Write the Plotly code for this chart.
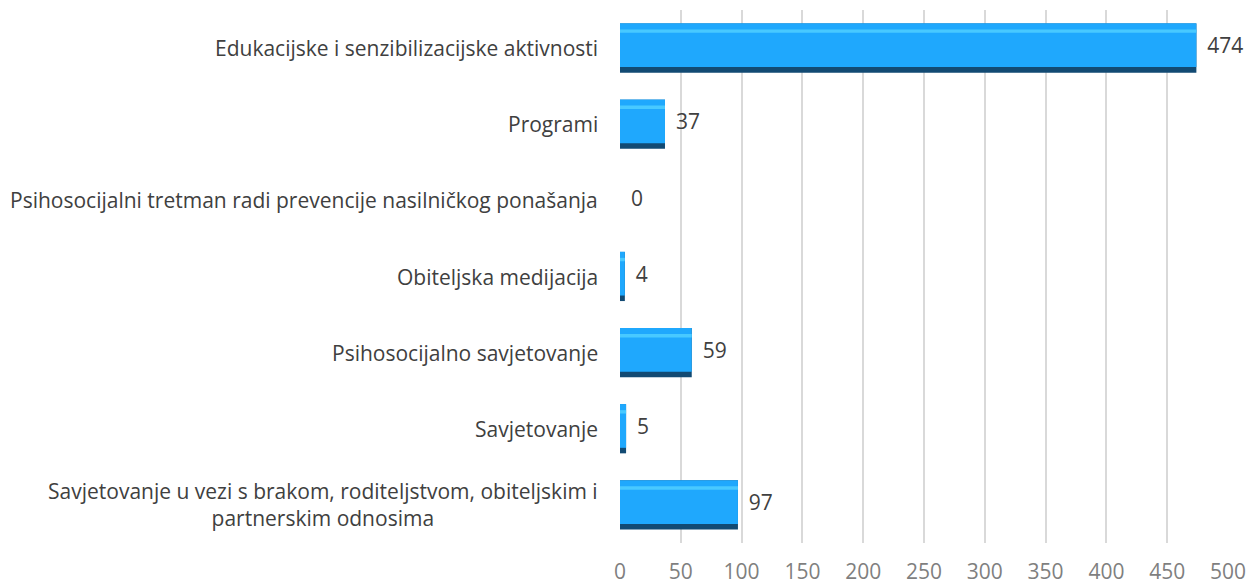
import plotly.graph_objects as go

categories = [
    "Savjetovanje u vezi s brakom, roditeljstvom, obiteljskim i<br>partnerskim odnosima",
    "Savjetovanje",
    "Psihosocijalno savjetovanje",
    "Obiteljska medijacija",
    "Psihosocijalni tretman radi prevencije nasilničkog ponašanja",
    "Programi",
    "Edukacijske i senzibilizacijske aktivnosti",
]
values = [97, 5, 59, 4, 0, 37, 474]
x_ticks = [0, 50, 100, 150, 200, 250, 300, 350, 400, 450, 500]

FONT = "Open Sans"
FS = 21
fig = go.Figure()

# dark base (bevel bottom / right shade)
fig.add_trace(go.Bar(
    y=categories, x=values, orientation="h", width=0.645,
    marker=dict(color="#124a73", line=dict(width=0)),
    hoverinfo="skip", showlegend=False,
))
# main face
fig.add_trace(go.Bar(
    y=categories, x=values, orientation="h", width=0.575, offset=-0.25,
    marker=dict(color="#1fa8fd", line=dict(width=0)),
    hoverinfo="skip", showlegend=False,
))
# top highlight
fig.add_trace(go.Bar(
    y=categories, x=values, orientation="h", width=0.045, offset=0.2,
    marker=dict(color="#48c9ff", line=dict(width=0)),
    hoverinfo="skip", showlegend=False,
))
# value labels
fig.add_trace(go.Scatter(
    y=categories, x=values, mode="text",
    text=["  " + str(v) for v in values], textposition="middle right",
    textfont=dict(family=FONT, size=FS, color="#404040"),
    cliponaxis=False,
    hoverinfo="skip", showlegend=False,
))

annotations = []
for c in categories:
    annotations.append(dict(
        x=0, xref="paper", y=c, yref="y", text=c, showarrow=False,
        xanchor="right", xshift=-20, align="center",
        font=dict(family=FONT, size=FS, color="#404040"),
    ))

fig.update_layout(
    barmode="overlay",
    width=1247, height=584,
    margin=dict(l=620, r=19, t=10, b=41, autoexpand=False),
    paper_bgcolor="white", plot_bgcolor="white",
    annotations=annotations,
    xaxis=dict(
        range=[0, 500], tickvals=x_ticks, automargin=False,
        showgrid=True, gridcolor="#d9d9d9", gridwidth=1.5,
        zeroline=False, showline=False,
        ticks="outside", ticklen=10, tickcolor="rgba(0,0,0,0)",
        tickfont=dict(family=FONT, size=FS, color="#7f7f7f"),
    ),
    yaxis=dict(
        categoryorder="array", categoryarray=categories, automargin=False,
        showticklabels=False, showgrid=False, zeroline=False,
        range=[-0.5, 6.5],
    ),
)

fig.write_html("out.html", config={"displayModeBar": False},
               post_script="document.body.style.margin='0';")
